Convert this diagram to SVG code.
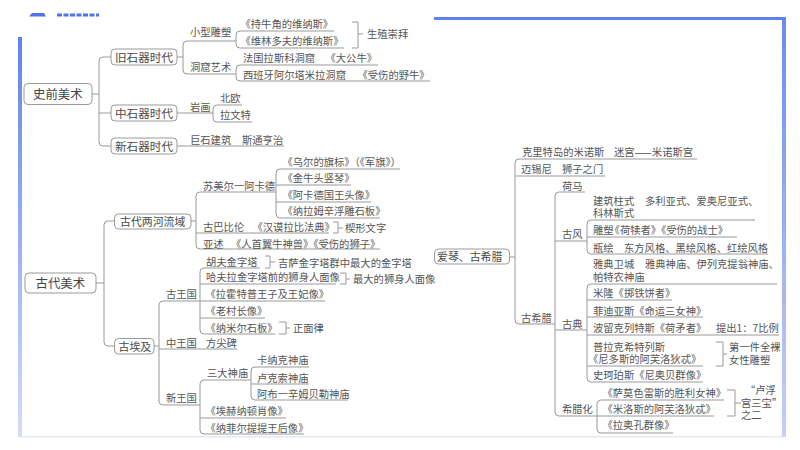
<svg xmlns="http://www.w3.org/2000/svg" width="800" height="450" viewBox="0 0 800 450">
<defs>
<linearGradient id="lb" gradientUnits="userSpaceOnUse" x1="0" y1="37" x2="0" y2="437"><stop offset="0" stop-color="#5f83ee"/><stop offset="0.45" stop-color="#94abf3"/><stop offset="1" stop-color="#d3dcfa"/></linearGradient>
<linearGradient id="rb" gradientUnits="userSpaceOnUse" x1="0" y1="18" x2="0" y2="437"><stop offset="0" stop-color="#6a8cf0"/><stop offset="0.5" stop-color="#98aff4"/><stop offset="1" stop-color="#c3d0f9"/></linearGradient>
</defs>
<style>
text{font-family:"Noto Sans CJK SC","Noto Sans CJK JP",sans-serif;fill:#555;font-size:10.3px}
.b{font-size:12.4px;fill:#444}
.m{font-size:11.6px;fill:#4a4a4a}
.s{font-size:10.9px;fill:#4a4a4a}
.c path{fill:none;stroke:#999;stroke-width:1}
.n{fill:#fff;stroke:#9a9a9a;stroke-width:1}
</style>
<rect width="800" height="450" fill="#fff"/>
<g id="frame">
<rect x="18" y="37" width="4" height="400" fill="url(#lb)"/>
<rect x="782" y="18" width="4" height="419" fill="url(#rb)"/>
<rect x="22" y="436" width="760" height="1.500" fill="#e3e8fa"/>
<rect x="434" y="17" width="352" height="3" fill="#5f83ee"/>
<path d="M29 16.500L32 13H44L46 16.500Z" fill="#4f74e6"/>
<path d="M57 15H99" fill="none" stroke="#4f74e6" stroke-width="3" stroke-dasharray="5 1.500"/>
</g>
<g id="connectors" class="c">
<path d="M92 94H99M111 57H103Q99 57 99 61V142Q99 146 103 146H111M99 113H111"/>
<path d="M177 57H183M236 41H187Q183 41 183 45V70Q183 74 187 74H236"/>
<path d="M334 31H240Q236 31 236 35V44Q236 48 240 48H344"/>
<path d="M378 65H240Q236 65 236 69V77Q236 81 240 81H430"/>
<path d="M177 113H213M242 105H217Q213 105 213 109V118Q213 122 217 122H252"/>
<path d="M177 146H284"/>
<path d="M352 22H358V48H352M358 34H363"/>
<path d="M96 283H104M114 221H108Q104 221 104 225V342Q104 346 108 346H114"/>
<path d="M191 221H196M276 192H200Q196 192 196 196V245Q196 249 200 249H380M196 233H329"/>
<path d="M400 169H280Q276 169 276 173V214Q276 218 280 218H380M276 185H351M276 202H371"/>
<path d="M333 222H338V233H333M338 228H343"/>
<path d="M154 346H159M200 301H163Q159 301 159 305V401Q159 405 163 405H200M159 349H237"/>
<path d="M260 268H204Q200 268 200 272V330Q200 334 204 334H275M200 284H336M200 301H325M200 318H265"/>
<path d="M251 380H204Q200 380 200 384V430Q200 434 204 434H304M200 418H286"/>
<path d="M309 367H255Q251 367 251 371V396Q251 400 255 400H348M251 384H309"/>
<path d="M265 256H270V268H265M270 262H275"/>
<path d="M340 273H346V284H340M346 279H350"/>
<path d="M279 322H286V334H279M286 328H290"/>
<path d="M509 257H515M697 159H519Q515 159 515 163V320Q515 324 519 324H555M515 176H605"/>
<path d="M585 192H559Q555 192 555 196V412Q555 416 559 416H597M555 241H587M555 330H587"/>
<path d="M755 220H591Q587 220 587 224V250Q587 254 591 254H768M587 237H737"/>
<path d="M777 284H591Q587 284 587 288V378Q587 382 591 382H703M587 300H672M587 317H703M587 335H779M587 366H703"/>
<path d="M724 400H601Q597 400 597 404V429Q597 433 601 433H673M597 416H714"/>
<path d="M716 342H723V366H716M723 354H727"/>
<path d="M727 390H735V416H727M735 403H741"/>
</g>
<g id="n-prehistory"><rect class="n" x="24" y="83.500" width="68" height="21" rx="4"/><text class="b" x="33" y="99">史前美术</text></g>
<g id="n-paleo"><rect class="n" x="111" y="49" width="66" height="16" rx="4"/><text class="m" x="115" y="61.500">旧石器时代</text></g>
<g id="n-meso"><rect class="n" x="111" y="105" width="66" height="16" rx="4"/><text class="m" x="115" y="117.500">中石器时代</text></g>
<g id="n-neo"><rect class="n" x="111" y="138" width="66" height="16" rx="4"/><text class="m" x="115" y="150.500">新石器时代</text></g>
<g id="n-ancient"><rect class="n" x="25" y="273" width="71" height="20" rx="4"/><text class="b" x="35.500" y="288">古代美术</text></g>
<g id="n-mesopotamia"><rect class="n" x="114.500" y="214" width="76.500" height="15" rx="4"/><text class="s" x="120" y="225.500">古代两河流域</text></g>
<g id="n-egypt"><rect class="n" x="114.500" y="338.500" width="39.500" height="15.500" rx="4"/><text class="s" x="118.500" y="350.500">古埃及</text></g>
<g id="n-greece"><rect class="n" x="434.500" y="249" width="75" height="15" rx="4"/><text class="s" x="437" y="261">爱琴、古希腊</text></g>
<g id="labels">
<text x="190" y="36">小型雕塑</text>
<text x="240.500" y="28">《持牛角的维纳斯》</text>
<text x="240.500" y="45">《维林多夫的维纳斯》</text>
<text x="367" y="38">生殖崇拜</text>
<text x="190" y="71">洞窟艺术</text>
<text x="243" y="62">法国拉斯科洞窟</text>
<text x="325.500" y="62">《大公牛》</text>
<text x="243" y="79">西班牙阿尔塔米拉洞窟</text>
<text x="357.500" y="79">《受伤的野牛》</text>
<text x="190" y="111">岩画</text>
<text x="220" y="102">北欧</text>
<text x="220" y="119">拉文特</text>
<text x="190" y="144">巨石建筑</text>
<text x="242" y="144">斯通亨治</text>
<text x="282.500" y="166">《乌尔的旗标》（《军旗》）</text>
<text x="282.500" y="182">《金牛头竖琴》</text>
<text x="282.500" y="199">《阿卡德国王头像》</text>
<text x="282.500" y="215">《纳拉姆辛浮雕石板》</text>
<text x="203" y="190">苏美尔一阿卡德</text>
<text x="203" y="231">古巴比伦</text>
<text x="252.500" y="231">《汉谟拉比法典》</text>
<text x="345" y="232">楔形文字</text>
<text x="203" y="248">亚述</text>
<text x="231" y="248">《人首翼牛神兽》《受伤的狮子》</text>
<text x="206" y="266">胡夫金字塔</text>
<text x="278" y="267">吉萨金字塔群中最大的金字塔</text>
<text x="206" y="281">哈夫拉金字塔前的狮身人面像</text>
<text x="353" y="283">最大的狮身人面像</text>
<text x="166" y="298">古王国</text>
<text x="205.500" y="298">《拉霍特普王子及王妃像》</text>
<text x="205.500" y="315">《老村长像》</text>
<text x="205.500" y="332">《纳米尔石板》</text>
<text x="293" y="332">正面律</text>
<text x="166" y="347">中王国</text>
<text x="206" y="347">方尖碑</text>
<text x="257" y="364">卡纳克神庙</text>
<text x="257" y="382">卢克索神庙</text>
<text x="257" y="398">阿布一辛姆贝勒神庙</text>
<text x="207" y="377">三大神庙</text>
<text x="166" y="402">新王国</text>
<text x="205.500" y="415">《埃赫纳顿肖像》</text>
<text x="205.500" y="432">《纳菲尔提提王后像》</text>
<text x="522" y="156">克里特岛的米诺斯</text>
<text x="614" y="156">迷宫——米诺斯宫</text>
<text x="521" y="173">迈锡尼</text>
<text x="562" y="173">狮子之门</text>
<text x="562" y="190">荷马</text>
<text x="562" y="238">古风</text>
<text x="593" y="205">建筑柱式</text>
<text x="645" y="205">多利亚式、爱奥尼亚式、</text>
<text x="593" y="217">科林斯式</text>
<text x="593" y="234">雕塑<tspan dx="-4">《荷犊者》《受伤的战士》</tspan></text>
<text x="593" y="252">瓶绘</text>
<text x="624" y="252">东方风格、黑绘风格、红绘风格</text>
<text x="593" y="268">雅典卫城</text>
<text x="645" y="268">雅典神庙、伊列克提翁神庙、</text>
<text x="593" y="281">帕特农神庙</text>
<text x="593" y="297">米隆《掷铁饼者》</text>
<text x="593" y="315">菲迪亚斯《命运三女神》</text>
<text x="593" y="332">波留克列特斯《荷矛者》</text>
<text x="716" y="332">提出1：7比例</text>
<text x="593" y="351">普拉克希特列斯</text>
<text x="588" y="363">《尼多斯的阿芙洛狄忒》</text>
<text x="593" y="379">史珂珀斯《尼奥贝群像》</text>
<text x="729" y="351">第一件全裸</text>
<text x="729" y="364">女性雕塑</text>
<text x="521" y="322">古希腊</text>
<text x="562" y="328">古典</text>
<text x="562" y="413">希腊化</text>
<text x="602.500" y="397">《萨莫色雷斯的胜利女神》</text>
<text x="602.500" y="413">《米洛斯的阿芙洛狄忒》</text>
<text x="602.500" y="429">《拉奥孔群像》</text>
<text x="745" y="394">“卢浮</text>
<text x="741" y="407">宫三宝”</text>
<text x="741" y="419">之二</text>
</g>
</svg>
